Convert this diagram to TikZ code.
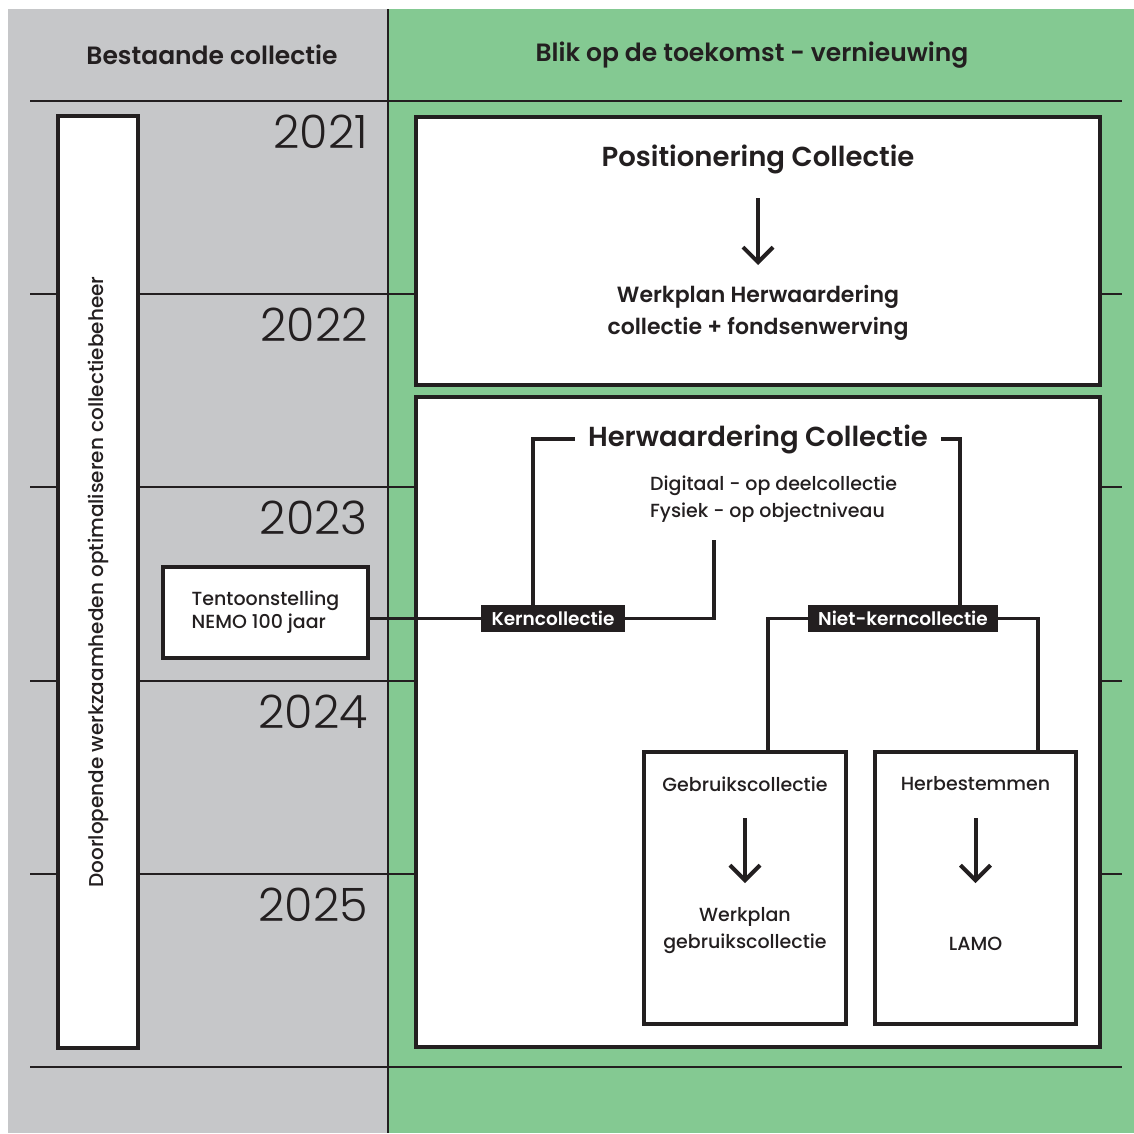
\documentclass[tikz,border=0pt]{standalone}
\usepackage{fontspec}
\setmainfont{Poppins}[UprightFont=* Medium, BoldFont=* SemiBold]
\newfontfamily\yearfont{Poppins Light}
\usetikzlibrary{arrows.meta,positioning}

\definecolor{ink}{RGB}{35,31,32}
\definecolor{panelgray}{RGB}{198,199,201}
\definecolor{panelgreen}{RGB}{132,201,146}

\tikzset{
  box/.style={draw=ink, line width=4pt, fill=white, inner sep=0pt, text=ink},
  txt/.style={text=ink, align=center, inner sep=0pt},
  head/.style={txt, font=\fontsize{25}{28}\selectfont\bfseries},
  title/.style={txt, font=\fontsize{27.5}{32}\selectfont\bfseries},
  sub/.style={txt, font=\fontsize{22}{32}\selectfont\bfseries},
  small/.style={txt, font=\fontsize{19}{27}\selectfont},
  tag/.style={fill=ink, text=white, inner sep=0pt, minimum height=27pt, minimum width=144pt, font=\fontsize{18.5}{20}\selectfont\bfseries},
  conn/.style={draw=ink, line width=3.5pt},
  arr/.style={draw=ink, line width=4pt, -{Straight Barb[length=15pt, width=30pt]}},
  yearline/.style={draw=ink, line width=2pt},
  year/.style={anchor=north east, text=ink, inner sep=0pt, font=\fontsize{46}{48}\yearfont},
}

\begin{document}
\begin{tikzpicture}[x=1pt, y=-1pt]
  \useasboundingbox (0,0) rectangle (1134,1133);

  % two columns
  \fill[panelgray] (8,9) rectangle (388,1133);
  \fill[panelgreen] (388,9) rectangle (1134,1133);
  \draw[ink, line width=1.5pt] (388,9) -- (388,1133);

  \node[head] (hleft) at (212,55) {Bestaande collectie};
  \node[head] (hright) at (752,55) {Blik op de toekomst - vernieuwing};

  % time lines + years
  \foreach \y/\yr in {101/2021, 294/2022, 487/2023, 681/2024, 874/2025}{
    \draw[yearline] (30,\y) -- (1122,\y);
    \node[year] (y\yr) at (368,\y+14) {\yr};
  }
  \draw[yearline] (30,1067) -- (1122,1067);

  % existing collection
  \node[box, rotate=90, minimum width=932pt, minimum height=80pt,
        font=\fontsize{20}{22}\selectfont] (cont) at (98,582)
    {Doorlopende werkzaamheden optimaliseren collectiebeheer};
  \node[box, minimum width=205pt, minimum height=91pt, align=left,
        font=\fontsize{19}{23}\selectfont] (tent) at (265.5,612.5)
    {Tentoonstelling\\NEMO 100 jaar};

  % future
  \node[box, minimum width=684pt, minimum height=268pt] (posbox) at (758,251) {};
  \node[title] (ptitle) at (758,159) {Positionering Collectie};
  \node[sub] (pwerk) at (758,313) {Werkplan Herwaardering\\collectie + fondsenwerving};
  \draw[arr] ([yshift=-39pt]ptitle.center) -- ([yshift=48pt]pwerk.center);

  \node[box, minimum width=684pt, minimum height=650pt] (herbox) at (758,722) {};
  \node[title, inner xsep=13pt] (herw) at (758,439) {Herwaardering Collectie};
  \node[small, align=left, anchor=west] (digi) at (650,499.5)
    {Digitaal - op deelcollectie\\Fysiek - op objectniveau};
  \coordinate (digend) at (714,540);

  \node[box, minimum width=202pt, minimum height=272pt] (geb) at (745,888) {};
  \node[small] (gtitle) at (745,784) {Gebruikscollectie};
  \node[small] (gwerk) at (745,930.5) {Werkplan\\gebruikscollectie};
  \draw[arr] ([yshift=-34pt]gtitle.center) -- ([yshift=47.5pt]gwerk.center);

  \node[box, minimum width=201pt, minimum height=272pt] (herb) at (975.5,888) {};
  \node[small] (htitle) at (975.5,784) {Herbestemmen};
  \node[small] (lamo) at (975.5,944) {LAMO};
  \draw[arr] ([yshift=-34pt]htitle.center) -- ([yshift=61pt]lamo.center);

  \node[tag] (kern) at (553,618.5) {Kerncollectie};
  \node[tag, minimum width=190pt] (niet) at (903,618.5) {Niet-kerncollectie};

  \draw[conn] (tent.east |- kern) -- (kern.west);
  \draw[conn] (herw.west) -| ([xshift=-20pt]kern.north);
  \draw[conn] (herw.east) -| ([xshift=57pt]niet.north);
  \draw[conn] (digend) |- (kern.east);
  \draw[conn] (niet.west) -| ([xshift=23pt]geb.north);
  \draw[conn] (niet.east) -| ([xshift=62.5pt]herb.north);

\end{tikzpicture}
\end{document}
